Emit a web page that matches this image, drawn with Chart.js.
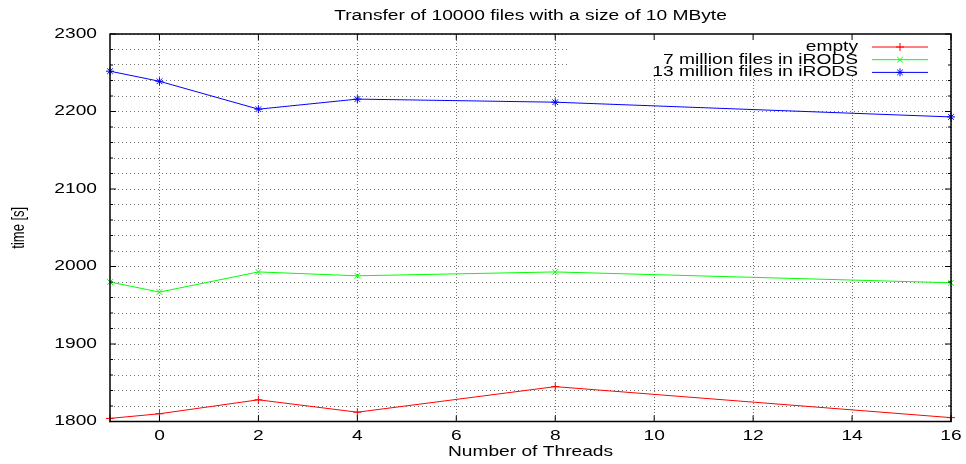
<!DOCTYPE html>
<html lang="en">
<head>
<meta charset="UTF-8">
<title>Transfer of 10000 files with a size of 10 MByte</title>
<script src="https://cdn.jsdelivr.net/npm/chart.js"></script>
<style>
    html, body { margin: 0; padding: 0; background: #fff; }
    #wrap { width: 966px; height: 464px; }
</style>
</head>
<body>
<div id="wrap"><canvas id="chart"></canvas></div>
<script>
// values
const threads = [-1, 0, 2, 4, 8, 16];
const emptyTimes = [1804, 1810, 1828, 1812, 1845, 1805];
const sevenMillionTimes = [1980, 1967, 1993, 1988, 1993, 1979];
const thirteenMillionTimes = [2252, 2239, 2203, 2216, 2212, 2193];
const xTicks = [0, 2, 4, 6, 8, 10, 12, 14, 16];
const yLabels = [1800, 1900, 2000, 2100, 2200, 2300];
const seriesNames = ['empty', '7 million files in iRODS', '13 million files in iRODS'];

const FONT = 'Liberation Sans';
const TEXT_STRETCH = 1.37; // the original picture is stretched sideways

// widen every piece of text in screen x, around its anchor point
const canvas = document.getElementById('chart');
const ctx2d = canvas.getContext('2d');
const plainFillText = ctx2d.fillText.bind(ctx2d);
ctx2d.fillText = function (text, x, y, maxWidth) {
    const m = this.getTransform();
    const p = m.transformPoint(new DOMPoint(x, y));
    this.save();
    this.setTransform(new DOMMatrix()
        .translate(p.x, p.y).scale(TEXT_STRETCH, 1).translate(-p.x, -p.y)
        .multiply(m));
    plainFillText(text, x, y);
    this.restore();
};

function points(values) {
    return threads.map((t, i) => ({ x: t, y: values[i] }));
}

function series(name, values, color, style) {
    return {
        label: name,
        data: points(values),
        borderColor: color,
        backgroundColor: color,
        borderWidth: 1,
        pointStyle: style,
        pointRadius: 4,
        pointBorderWidth: 1,
        tension: 0,
        clip: false
    };
}

// gnuplot style key: text on the left, line sample with marker on the right, white box under it
const gnuKey = {
    id: 'gnuKey',
    beforeDatasetsDraw(chart) {
        const { ctx, chartArea: a } = chart;
        ctx.save();
        ctx.fillStyle = '#fff';
        ctx.fillRect(a.right - 383, a.top, 383, 42);
        ctx.font = '14px "' + FONT + '"';
        ctx.textAlign = 'right';
        ctx.textBaseline = 'middle';
        chart.data.datasets.forEach((ds, i) => {
            const yy = a.top + 13 + i * 12.7;
            ctx.fillStyle = '#000';
            ctx.fillText(ds.label, a.right - 93, yy);
            ctx.strokeStyle = ds.borderColor;
            ctx.lineWidth = 1;
            ctx.beginPath();
            ctx.moveTo(a.right - 79, yy);
            ctx.lineTo(a.right - 23, yy);
            ctx.stroke();
            Chart.helpers.drawPoint(ctx, {
                pointStyle: ds.pointStyle, radius: 4, borderWidth: 1, rotation: 0
            }, a.right - 51, yy);
        });
        ctx.restore();
    }
};

// solid frame with inward ticks
const frame = {
    id: 'frame',
    afterDraw(chart) {
        const { ctx, chartArea: a, scales: { x, y } } = chart;
        ctx.save();
        ctx.strokeStyle = '#000';
        ctx.lineWidth = 1.5;
        ctx.strokeRect(a.left, a.top, a.right - a.left, a.bottom - a.top);
        ctx.lineWidth = 1;
        ctx.beginPath();
        x.ticks.forEach(t => {
            const px = x.getPixelForValue(t.value);
            ctx.moveTo(px, a.bottom); ctx.lineTo(px, a.bottom - 6);
            ctx.moveTo(px, a.top); ctx.lineTo(px, a.top + 6);
        });
        y.ticks.forEach(t => {
            const py = y.getPixelForValue(t.value);
            const len = yLabels.includes(t.value) ? 6 : 3;
            ctx.moveTo(a.left, py); ctx.lineTo(a.left + len, py);
            ctx.moveTo(a.right, py); ctx.lineTo(a.right - len, py);
        });
        ctx.stroke();
        ctx.restore();
    }
};

new Chart(canvas, {
    type: 'line',
    data: {
        datasets: [
            series(seriesNames[0], emptyTimes, '#ff0000', 'cross'),
            series(seriesNames[1], sevenMillionTimes, '#00ff00', 'crossRot'),
            series(seriesNames[2], thirteenMillionTimes, '#0000ff', 'star')
        ]
    },
    options: {
        responsive: true,
        maintainAspectRatio: false,
        animation: false,
        layout: { padding: { left: 0, right: 15, top: 0, bottom: 0 } },
        plugins: {
            legend: { display: false },
            tooltip: { enabled: false },
            title: {
                display: true,
                fullSize: false, // centred over the plot, not the canvas
                text: 'Transfer of 10000 files with a size of 10 MByte',
                color: '#000',
                font: { family: FONT, size: 14, weight: 'normal' },
                padding: { top: 8, bottom: 9.2 }
            }
        },
        scales: {
            x: {
                type: 'linear',
                min: -1,
                max: 16,
                afterBuildTicks: scale => { scale.ticks = xTicks.map(v => ({ value: v })); },
                afterFit: scale => { scale.height = 42.5; },
                ticks: { color: '#000', font: { family: FONT, size: 14 }, padding: 6, maxRotation: 0 },
                grid: { color: 'rgba(0,0,0,0.55)', lineWidth: 1, drawTicks: false },
                border: { display: false, dash: [1, 2] },
                title: {
                    display: true,
                    text: 'Number of Threads',
                    color: '#000',
                    font: { family: FONT, size: 14 },
                    padding: { top: 0, bottom: 3.6 }
                }
            },
            y: {
                type: 'linear',
                min: 1800,
                max: 2300,
                afterFit: scale => { scale.width = 110; },
                ticks: {
                    stepSize: 20,
                    autoSkip: false,
                    color: '#000',
                    font: { family: FONT, size: 14 },
                    padding: 13,
                    callback: v => yLabels.includes(v) ? v : ''
                },
                grid: { color: 'rgba(0,0,0,0.55)', lineWidth: 1, drawTicks: false },
                border: { display: false, dash: [1, 3] },
                title: {
                    display: true,
                    text: 'time [s]',
                    color: '#000',
                    font: { family: FONT, size: 13 },
                    padding: { top: 11.2, bottom: 0 }
                }
            }
        }
    },
    plugins: [gnuKey, frame]
});
</script>
</body>
</html>
